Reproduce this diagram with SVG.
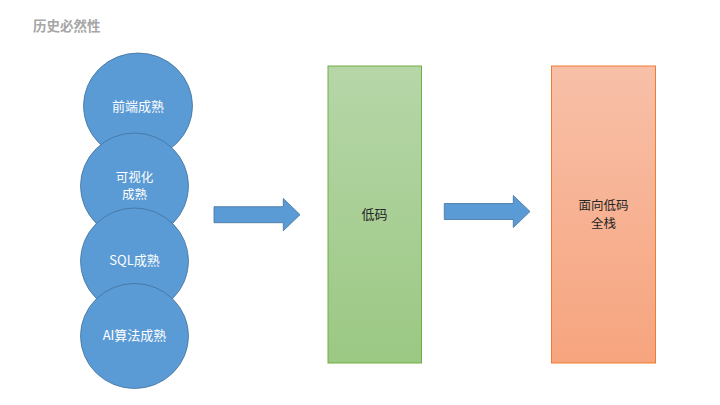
<svg xmlns="http://www.w3.org/2000/svg" width="720" height="405" viewBox="0 0 720 405">
<defs>
<linearGradient id="gGreen" x1="0" y1="0" x2="0" y2="1"><stop offset="0" stop-color="#B6D6A8"/><stop offset="1" stop-color="#9BC883"/></linearGradient>
<linearGradient id="gOrange" x1="0" y1="0" x2="0" y2="1"><stop offset="0" stop-color="#F8C0A8"/><stop offset="1" stop-color="#F6A47E"/></linearGradient>
<style>
.c{fill:#5B9BD5;stroke:#41719C;stroke-width:0.8}
.ct{fill:#FFFFFF;font-family:"Microsoft YaHei","Noto Sans CJK SC",sans-serif;font-size:13px;text-anchor:middle}
.rt{fill:#262626;font-family:"Noto Sans CJK SC",sans-serif;font-size:13px;text-anchor:middle}
.two{font-size:12.5px}
.ar{fill:#5B9BD5;stroke:#41719C;stroke-width:0.8}
</style>
</defs>
<text x="33" y="31" font-family="'Noto Sans CJK SC',sans-serif" font-size="13.5" font-weight="bold" fill="#A6A6A6">历史必然性</text>
<g id="n1"><ellipse class="c" cx="138" cy="106" rx="54.5" ry="53"/><text class="ct" x="138" y="111">前端成熟</text></g>
<g id="n2"><ellipse class="c" cx="134.5" cy="186" rx="54" ry="53"/><text class="ct two" x="134.5" y="181.5">可视化</text><text class="ct two" x="134.5" y="199">成熟</text></g>
<g id="n3"><ellipse class="c" cx="134.5" cy="261" rx="54" ry="53"/><text class="ct" x="134.5" y="265">SQL成熟</text></g>
<g id="n4"><ellipse class="c" cx="134.5" cy="336" rx="54" ry="52.5"/><text class="ct" x="134.5" y="340">AI算法成熟</text></g>
<g id="n5"><rect x="328" y="66" width="93.5" height="297" fill="url(#gGreen)" stroke="#70AD47" stroke-width="1"/><text class="rt" x="374.5" y="218.5">低码</text></g>
<g id="n6"><rect x="551.5" y="66" width="104" height="297" fill="url(#gOrange)" stroke="#ED7D31" stroke-width="1"/><text class="rt two" x="603.5" y="210">面向低码</text><text class="rt two" x="603.5" y="227.5">全栈</text></g>
<g id="connectors">
<polygon class="ar" points="214,206.7 283.3,206.7 283.3,198.5 300,214.7 283.3,230.8 283.3,222.7 214,222.7"/>
<polygon class="ar" points="444.3,203.5 513.3,203.5 513.3,195.5 530,211.5 513.3,227.5 513.3,219.5 444.3,219.5"/>
</g>
</svg>
